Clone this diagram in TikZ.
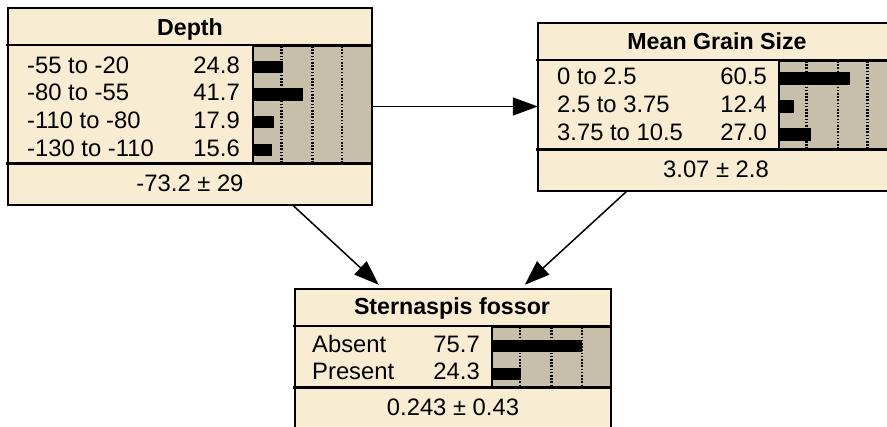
\documentclass[tikz,border=0pt]{standalone}
\usepackage{fontspec}
\setmainfont{Liberation Sans}
\usetikzlibrary{arrows.meta,calc}
\definecolor{cream}{RGB}{248,236,210}
\definecolor{panelc}{RGB}{200,191,170}
\begin{document}
\begin{tikzpicture}[x=1pt,y=-1pt,
  font=\fontsize{23.8}{28}\selectfont,
  box/.style={fill=cream, rectangle, inner sep=0pt},
  border/.style={draw=black, line width=2.4pt},
  divider/.style={line width=2.4pt},
  fdivider/.style={line width=3pt},
  panelbox/.style={fill=panelc},
  pedge/.style={line width=1.6pt},
  gridl/.style={line width=2.2pt, dash pattern=on 1.6pt off 1.6pt},
  bar/.style={fill=black},
  lbl/.style={anchor=base west, inner sep=0pt},
  val/.style={anchor=base east, inner sep=0pt},
  ctr/.style={anchor=base, inner sep=0pt},
  ttl/.style={anchor=base, inner sep=0pt, font=\fontsize{23.2}{27}\selectfont\bfseries},
  arr/.style={line width=1.5pt, -{Triangle[length=25pt,width=18pt]}}
]
\useasboundingbox (0,0) rectangle (887,427);
\clip (0,0) rectangle (887,427);

% ---------------- Depth ----------------
\node[box, minimum width=364pt, minimum height=197pt] (depth) at (190,106.5) {};
\fill[panelbox] (253,45) rectangle (372,164);
\foreach \gx in {281.5,312.5,342.25} \draw[gridl] (\gx,46) -- (\gx,164);
\foreach \p [count=\i from 0] in {24.8,41.7,17.9,15.6} {
  \pgfmathsetmacro{\b}{73.3+27.6*\i}
  \fill[bar] (253,\b-12.5) rectangle ({253+\p*1.19},\b);
}
\draw[pedge] (253,45) -- (253,164);
\draw[pedge] (253,46.5) -- (372,46.5);
\draw[divider] (6,45) -- (372,45);
\draw[fdivider] (6,164) -- (372,164);
\node[ttl] (depthT) at (190,36) {Depth};
\node[lbl] (d1) at (27,73.3) {-55 to -20};
\node[lbl] (d2) at (27,100.9) {-80 to -55};
\node[lbl] (d3) at (27,128.5) {-110 to -80};
\node[lbl] (d4) at (27,156.1) {-130 to -110};
\node[val] (dv1) at (240,73.3) {24.8};
\node[val] (dv2) at (240,100.9) {41.7};
\node[val] (dv3) at (240,128.5) {17.9};
\node[val] (dv4) at (240,156.1) {15.6};
\node[ctr] (dF) at (190,191.7) {-73.2 ± 29};
\draw[border] (depth.north west) rectangle (depth.south east);

% ---------------- Mean Grain Size ----------------
\node[box, minimum width=359pt, minimum height=168pt] (mgs) at (717.5,107) {};
\fill[panelbox] (779,60) rectangle (897,150);
\foreach \gx in {806.5,838,867.5} \draw[gridl] (\gx,61) -- (\gx,150);
\foreach \p/\b in {60.5/85,12.4/112.8,27.0/140.6} {
  \fill[bar] (779,\b-12.5) rectangle ({779+\p*1.18},\b);
}
\draw[pedge] (779,60) -- (779,150);
\draw[pedge] (779,61.5) -- (897,61.5);
\draw[divider] (536,60) -- (897,60);
\draw[fdivider] (536,150) -- (897,150);
\node[ttl] (mgsT) at (717,49.3) {Mean Grain Size};
\node[lbl] (m1) at (557,85) {0 to 2.5};
\node[lbl] (m2) at (557,112.8) {2.5 to 3.75};
\node[lbl] (m3) at (557,140.6) {3.75 to 10.5};
\node[val] (mv1) at (767,85) {60.5};
\node[val] (mv2) at (767,112.8) {12.4};
\node[val] (mv3) at (767,140.6) {27.0};
\node[ctr] (mF) at (716,177.3) {3.07 ± 2.8};
\draw[border] (mgs.north west) rectangle (mgs.south east);

% ---------------- Sternaspis fossor ----------------
\node[box, minimum width=316pt, minimum height=156pt] (stern) at (453,367) {};
\fill[panelbox] (492,326) rectangle (611,388);
\foreach \gx in {520,551.5,582} \draw[gridl] (\gx,327) -- (\gx,388);
\foreach \p/\b in {75.7/352.3,24.3/380} {
  \fill[bar] (492,\b-12) rectangle ({492+\p*1.19},\b);
}
\draw[pedge] (492,326) -- (492,388);
\draw[pedge] (492,327.5) -- (611,327.5);
\draw[divider] (293,326) -- (611,326);
\draw[fdivider] (293,388) -- (611,388);
\node[ttl] (sT) at (452,315) {Sternaspis fossor};
\node[lbl] (s1) at (312,352.3) {Absent};
\node[lbl] (s2) at (312,380) {Present};
\node[val] (sv1) at (480,352.3) {75.7};
\node[val] (sv2) at (480,380) {24.3};
\node[ctr] (sF) at (453,416) {0.243 ± 0.43};
\draw[border] (stern.north west) rectangle (stern.south east);

% ---------------- Arrows ----------------
\draw[arr] (depth.east) -- (mgs.west |- depth.east);
\draw[arr] ($(depth.south west)+(285,0)$) -- ($(stern.north west)+(84,-4)$);
\draw[arr] ($(mgs.south west)+(89,0)$) -- ($(stern.north west)+(230,-4)$);
\end{tikzpicture}
\end{document}
